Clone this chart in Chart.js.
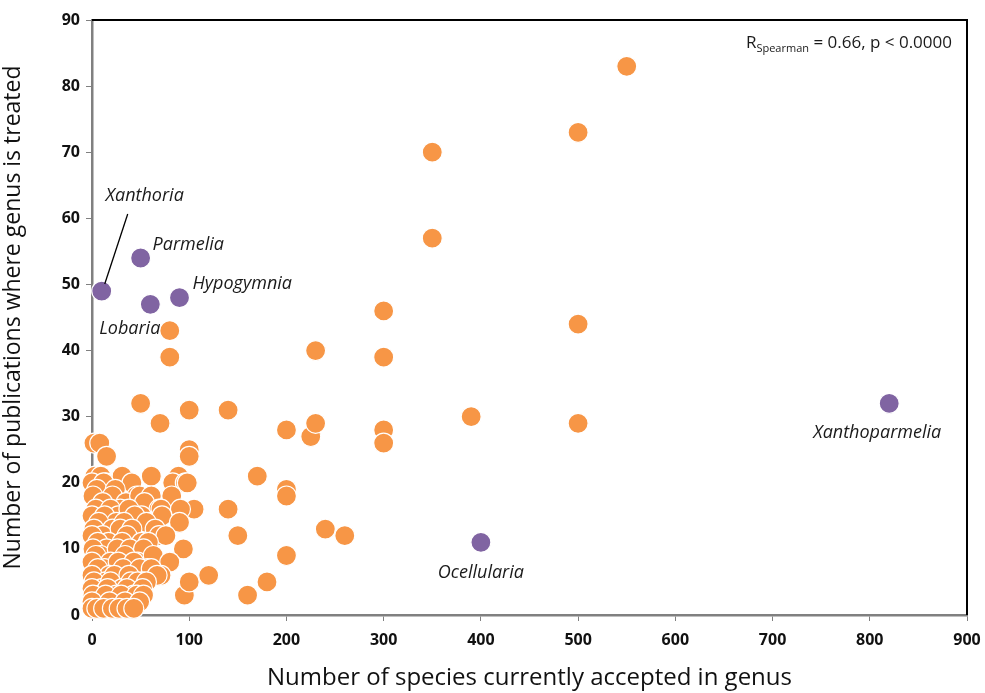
<!DOCTYPE html>
<html>
<head>
<meta charset="utf-8">
<script src="https://cdn.jsdelivr.net/npm/chart.js@4.4.1/dist/chart.umd.min.js"></script>
<style>
  html, body { margin: 0; padding: 0; background: #fff; overflow: hidden; }
  #wrap { width: 985px; height: 693px; position: relative; }
</style>
</head>
<body>
<div id="wrap"><canvas id="chart"></canvas></div>
<script>
// --- data: species per genus (x) vs number of publications (y) ---
const otherX = [550, 500, 350, 350, 300, 500, 230, 300, 80, 80, 50, 70, 100, 140, 200, 225, 230, 300, 300, 390, 500,
  100, 100, 170, 200, 200, 140, 105, 150, 240, 260, 200, 120, 180, 160, 95, 100,
  2, 8, 15, 3, 9, 14, 31, 61, 89, 0, 12, 41, 83, 96, 98, 5, 24, 46,
  1, 21, 35, 49, 61, 82, 11, 29, 54, 69, 4, 19, 27, 38, 51, 71, 91,
  0, 13, 25, 44, 59, 72, 7, 21, 33, 56, 90, 2, 11, 29, 41, 65, 69,
  0, 17, 36, 51, 76, 6, 15, 31, 58, 1, 9, 26, 39, 53, 94,
  4, 19, 34, 47, 63, 0, 13, 27, 43, 57, 80, 6, 18, 32, 49, 61, 71,
  0, 14, 23, 38, 52, 67, 2, 10, 19, 31, 40, 47, 56,
  0, 8, 16, 25, 36, 43, 52, 1, 6, 14, 22, 30, 38, 46, 53,
  0, 10, 18, 27, 34, 41, 49, 0, 5, 12, 21, 28, 36, 43];
const otherY = [83, 73, 70, 57, 46, 44, 40, 39, 43, 39, 32, 29, 31, 31, 28, 27, 29, 28, 26, 30, 29,
  25, 24, 21, 19, 18, 16, 16, 12, 13, 12, 9, 6, 5, 3, 3, 5,
  26, 26, 24, 21, 21, 20, 21, 21, 21, 20, 20, 20, 20, 20, 20, 19, 19, 18,
  18, 18, 17, 18, 18, 18, 17, 16, 17, 16, 16, 16, 15, 16, 15, 16, 16,
  15, 15, 14, 15, 14, 15, 14, 13, 14, 14, 14, 13, 12, 13, 13, 13, 12,
  12, 11, 12, 11, 12, 11, 10, 11, 11, 10, 9, 10, 10, 10, 10,
  9, 8, 9, 8, 9, 8, 7, 8, 8, 7, 8, 7, 6, 7, 7, 7, 6,
  6, 5, 6, 6, 5, 6, 5, 4, 5, 4, 5, 5, 5,
  4, 3, 4, 3, 4, 3, 4, 3, 2, 3, 2, 3, 2, 3, 3,
  2, 1, 2, 1, 2, 1, 2, 1, 1, 1, 1, 1, 1, 1];

const namedGenera = ['Xanthoria', 'Parmelia', 'Lobaria', 'Hypogymnia', 'Xanthoparmelia', 'Ocellularia'];
const namedX = [10, 50, 60, 90, 820, 400];
const namedY = [49, 54, 47, 48, 32, 11];

const xTicks = [0, 100, 200, 300, 400, 500, 600, 700, 800, 900];
const yTicks = [0, 10, 20, 30, 40, 50, 60, 70, 80, 90];

const xTitle = 'Number of species currently accepted in genus';
const yTitle = 'Number of publications where genus is treated';

const toPoints = (xs, ys) => xs.map((x, i) => ({ x: x, y: ys[i] }));

// label placement relative to the point (pixels), style only
const labelStyle = {
    Xanthoria:      { dx: 43,  dy: -95, align: 'center' },
    Parmelia:       { dx: 12,  dy: -13, align: 'left' },
    Hypogymnia:     { dx: 13,  dy: -14, align: 'left' },
    Lobaria:        { dx: 10,  dy: 25,  align: 'right' },
    Xanthoparmelia: { dx: -12, dy: 29,  align: 'center' },
    Ocellularia:    { dx: 0,   dy: 31,  align: 'center' }
};

const framePlugin = {
    id: 'frame',
    beforeDatasetsDraw(chart) {
        const { ctx, chartArea: a } = chart;
        ctx.save();
        ctx.strokeStyle = '#000';
        ctx.lineWidth = 2;
        ctx.beginPath();
        ctx.moveTo(a.left, a.top);
        ctx.lineTo(a.right, a.top);
        ctx.lineTo(a.right, a.bottom);
        ctx.stroke();
        ctx.restore();
    },
    afterDatasetsDraw(chart) {
        const { ctx, scales: { x, y } } = chart;
        ctx.save();
        ctx.fillStyle = '#1a1a1a';
        ctx.font = 'italic 18px "Open Sans"';
        ctx.textBaseline = 'middle';
        namedGenera.forEach((name, i) => {
            const px = x.getPixelForValue(namedX[i]);
            const py = y.getPixelForValue(namedY[i]);
            const s = labelStyle[name];
            ctx.textAlign = s.align;
            ctx.fillText(name, px + s.dx, py + s.dy);
            if (name === 'Xanthoria') {
                ctx.strokeStyle = '#000';
                ctx.lineWidth = 1.3;
                ctx.beginPath();
                ctx.moveTo(px + 26, py - 77);
                ctx.lineTo(px + 3, py - 7);
                ctx.stroke();
            }
        });

        // Spearman annotation
        const rx = chart.chartArea.right - 15;
        const ry = chart.chartArea.top + 22;
        ctx.textAlign = 'left';
        ctx.textBaseline = 'alphabetic';
        const main = ' = 0.66, p < 0.0000';
        ctx.font = '17px "Open Sans"';
        const wMain = ctx.measureText(main).width;
        ctx.font = '11px "Open Sans"';
        const wSub = ctx.measureText('Spearman').width;
        ctx.font = '17px "Open Sans"';
        const wR = ctx.measureText('R').width;
        let sx = rx - wMain - wSub - wR;
        ctx.fillText('R', sx, ry + 6);
        ctx.font = '11px "Open Sans"';
        ctx.fillText('Spearman', sx + wR, ry + 10);
        ctx.font = '17px "Open Sans"';
        ctx.fillText(main, sx + wR + wSub, ry + 6);
        ctx.restore();
    }
};

new Chart(document.getElementById('chart'), {
    type: 'scatter',
    data: {
        datasets: [
            {
                label: 'Other genera',
                data: toPoints(otherX, otherY),
                backgroundColor: '#F79646',
                borderColor: '#ffffff',
                borderWidth: 1.2,
                pointRadius: 10,
                clip: false,
                order: 2
            },
            {
                label: 'Named genera',
                data: toPoints(namedX, namedY),
                backgroundColor: '#8064A2',
                borderColor: '#ffffff',
                borderWidth: 1.2,
                pointRadius: 10,
                clip: false,
                order: 1
            }
        ]
    },
    options: {
        responsive: true,
        maintainAspectRatio: false,
        animation: false,
        layout: { padding: { left: 0, top: 20, right: 18, bottom: 0 } },
        plugins: {
            legend: { display: false },
            tooltip: { enabled: false }
        },
        scales: {
            x: {
                type: 'linear',
                min: 0,
                max: 900,
                afterBuildTicks: s => { s.ticks = xTicks.map(v => ({ value: v })); },
                afterFit: s => { s.height = 78; s.paddingRight = 0; s.paddingLeft = 0; },
                border: { display: true, color: '#808080', width: 2.5 },
                grid: { display: true, drawOnChartArea: false, drawTicks: true, tickLength: 6, color: '#808080', lineWidth: 1 },
                ticks: {
                    color: '#111',
                    padding: 10,
                    font: { family: '"Open Sans"', size: 16, weight: 'bold' }
                },
                title: {
                    display: true,
                    text: xTitle,
                    color: '#111',
                    padding: { top: 0, bottom: 0 },
                    font: { family: '"Open Sans"', size: 24 }
                }
            },
            y: {
                type: 'linear',
                min: 0,
                max: 90,
                afterBuildTicks: s => { s.ticks = yTicks.map(v => ({ value: v })); },
                afterFit: s => { s.width = 92; },
                border: { display: true, color: '#808080', width: 2.5 },
                grid: { display: true, drawOnChartArea: false, drawTicks: true, tickLength: 6, color: '#808080', lineWidth: 1 },
                ticks: {
                    color: '#111',
                    padding: 6,
                    font: { family: '"Open Sans"', size: 16, weight: 'bold' }
                },
                title: {
                    display: true,
                    text: yTitle,
                    color: '#111',
                    padding: { top: 0, bottom: 2 },
                    font: { family: '"Open Sans"', size: 23 }
                }
            }
        }
    },
    plugins: [framePlugin]
});
</script>
</body>
</html>
